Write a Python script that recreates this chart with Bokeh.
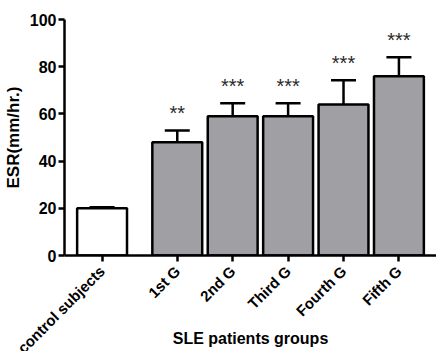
from bokeh.plotting import figure
from bokeh.models import FactorRange, Whisker, TeeHead, ColumnDataSource, CDSView, IndexFilter
from bokeh.core.properties import value
from bokeh.embed import file_html
from bokeh.resources import INLINE
import math

# ---- data ----
categories = ["control subjects", "1st G", "2nd G", "Third G", "Fourth G", "Fifth G"]
groups = ["ctrl", "SLE", "SLE", "SLE", "SLE", "SLE"]
means = [20, 48, 59, 59, 64, 76]
errors = [0.4, 5, 5.5, 5.5, 10.3, 8]
stars = ["", "**", "***", "***", "***", "***"]
fills = ["white", "#a0a0a4", "#a0a0a4", "#a0a0a4", "#a0a0a4", "#a0a0a4"]
y_ticks = [0, 20, 40, 60, 80, 100]

factors = list(zip(groups, categories))
upper = [m + e for m, e in zip(means, errors)]

src = ColumnDataSource(dict(x=factors, top=means, upper=upper, stars=stars, fill=fills))
star_view = CDSView(filter=IndexFilter([i for i, s in enumerate(stars) if s]))

FONT = "Liberation Sans"

x_range = FactorRange(*factors, group_padding=0.357, range_padding=0.056)

p = figure(x_range=x_range, y_range=(0, 100), width=436, height=351,
           output_backend="svg", toolbar_location=None,
           min_border_left=60, min_border_right=0, min_border_top=19, min_border_bottom=96)
p.outline_line_color = None
p.grid.grid_line_color = None
p.background_fill_color = "white"

p.vbar(x="x", top="top", bottom=0, width=0.9, source=src,
       fill_color="fill", line_color="black", line_width=2.5)

w = Whisker(source=src, base="x", upper="upper", lower="top",
            line_color="black", line_width=2.5,
            upper_head=TeeHead(size=25, line_color="black", line_width=2.5),
            lower_head=None)
p.add_layout(w)

p.text(x="x", y="upper", text="stars", source=src, view=star_view, text_align="center",
       text_baseline="alphabetic", y_offset=-17, text_font=value(FONT),
       text_font_size="20px", text_color="#2a2a2a")

# axes
p.yaxis.ticker = y_ticks
p.yaxis.axis_label = "ESR(mm/hr.)"
p.xaxis.axis_label = "SLE patients groups"
for ax in (p.xaxis[0], p.yaxis[0]):
    ax.axis_line_width = 2.5
    ax.major_tick_line_width = 2.5
    ax.major_tick_in = 0
    ax.major_tick_out = 6
    ax.minor_tick_line_color = None
    ax.major_label_text_font = FONT
    ax.major_label_text_font_style = "bold"
    ax.major_label_text_color = "black"
    ax.axis_label_text_font = FONT
    ax.axis_label_text_font_style = "bold"
    ax.axis_label_text_color = "black"
    ax.axis_label_text_font_size = "16px"

p.yaxis.axis_label_text_font_size = "17px"
p.yaxis.major_label_text_font_size = "16px"
p.yaxis.major_label_standoff = 2
p.yaxis.axis_label_standoff = 4
p.xaxis.major_label_text_font_size = "15px"
p.xaxis.major_label_orientation = math.pi / 4
p.xaxis.major_label_standoff = 7
p.xaxis.group_text_font_size = "0px"
p.xaxis.group_text_color = None
p.xaxis.separator_line_alpha = 0
p.xaxis.axis_label_standoff = -35

open("out.html", "w").write(file_html(p, INLINE))
